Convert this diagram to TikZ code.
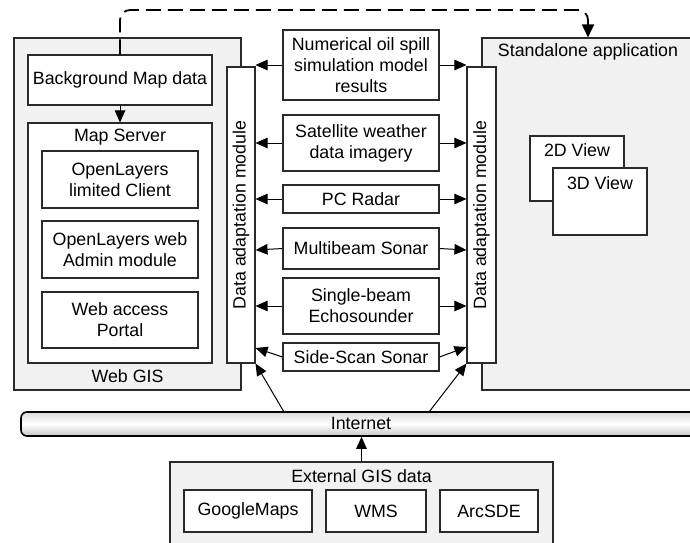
\documentclass[tikz,border=0pt]{standalone}
\usepackage{fontspec}
\setmainfont{Liberation Sans}
\usetikzlibrary{arrows.meta,calc}
\definecolor{edge}{HTML}{2A2A2A}
\definecolor{panel}{HTML}{F1F1F1}
\begin{document}
\begin{tikzpicture}[x=1pt,y=-1pt,
  font=\fontsize{17.8}{21}\selectfont,
  box/.style={draw=edge,line width=1.1pt,fill=white,inner sep=0pt,align=center},
  panelbox/.style={draw=edge,line width=1.1pt,fill=panel,inner sep=0pt},
  lbl/.style={inner sep=0pt,anchor=center},
  arr/.style={-{Triangle[length=12pt,width=10.5pt]},line width=1pt,draw=black},
  dasharr/.style={-{Triangle[length=13pt,width=12pt]},line width=1.8pt,dash pattern=on 15pt off 7pt,rounded corners=10pt}]
\useasboundingbox (0,0) rectangle (690,542);
\clip (0,0) rectangle (690,542);
% Web GIS
\node[panelbox,minimum width=227,minimum height=352] (webgis) at (127.5,214) {};
\node[lbl] (webgislab) at (127.5,376) {Web GIS};
\node[box,minimum width=184,minimum height=50] (bg) at (120,80) {Background Map data};
\node[box,minimum width=184,minimum height=240] (ms) at (120,243) {};
\node[lbl] (mslab) at (120,137) {Map Server};
\node[box,minimum width=156,minimum height=57] (olc) at (120,179.5) {OpenLayers\\limited Client};
\node[box,minimum width=156,minimum height=57] (ola) at (120,249.5) {OpenLayers web\\Admin module};
\node[box,minimum width=156,minimum height=56] (wap) at (120,320) {Web access\\Portal};
% Standalone
\node[panelbox,minimum width=212,minimum height=352] (sa) at (588,214) {};
\node[lbl] (salab) at (588,52) {Standalone application};
\node[box,minimum width=94,minimum height=65] (v2) at (577,168.5) {};
\node[lbl] (v2lab) at (577,150) {2D View};
\node[box,minimum width=94,minimum height=67] (v3) at (600,201.5) {};
\node[lbl] (v3lab) at (600,183) {3D View};
% modules
\node[box,minimum width=28,minimum height=296] (lmod) at (241,215) {};
\node[lbl,rotate=90] (lmodlab) at (241,215) {Data adaptation module};
\node[box,minimum width=29,minimum height=296] (rmod) at (481.5,215) {};
\node[lbl,rotate=90] (rmodlab) at (481.5,215) {Data adaptation module};
% central sources
\node[box,minimum width=156,minimum height=70] (num) at (361,65) {Numerical oil spill\\simulation model\\results};
\node[box,minimum width=156,minimum height=56] (sat) at (361,143) {Satellite weather\\data imagery};
\node[box,minimum width=156,minimum height=28] (pcr) at (361,199) {PC Radar};
\node[box,minimum width=156,minimum height=41] (mbs) at (361,248.5) {Multibeam Sonar};
\node[box,minimum width=156,minimum height=56] (sbe) at (361,306) {Single-beam\\Echosounder};
\node[box,minimum width=156,minimum height=28] (sss) at (361,357) {Side-Scan Sonar};
\foreach \n in {num,sat,pcr,sbe}{
  \draw[arr] (\n.west) -- (\n.west -| lmod.east);
  \draw[arr] (\n.east) -- (\n.east -| rmod.west);
}
\draw[arr] (mbs.west) -- (lmod.east |- 0,250);
\draw[arr] (mbs.east) -- (rmod.west |- 0,250);
\draw[arr] (sss.west) -- (lmod.east |- 0,348);
\draw[arr] (sss.east) -- (rmod.west |- 0,347);
% internal arrow
\draw[arr] (bg.south) -- (ms.north);
% dashed
\draw[dasharr] (bg.north) -- (120,10) -- (588,10) -- (sa.north);
% Internet
\node[draw=black,line width=1.6pt,rounded corners=6pt,minimum width=680,minimum height=24,inner sep=0pt,
  top color=black!14,bottom color=black!22,middle color=white,shading angle=0] (inet) at (361,424) {};
\node[lbl] (inetlab) at (361,423) {Internet};
\coordinate (ial) at (284,412);
\coordinate (iar) at (429,412);
\draw[arr] (ial) -- (lmod.south east);
\draw[arr] (iar) -- (rmod.south west);
% External GIS
\node[panelbox,minimum width=383,minimum height=120] (ext) at (361.5,522) {};
\node[lbl] (extlab) at (361.5,476) {External GIS data};
\node[box,minimum width=128,minimum height=42] (gm) at (248,511) {GoogleMaps};
\node[box,minimum width=100,minimum height=42] (wms) at (376,511) {WMS};
\node[box,minimum width=98,minimum height=42] (arc) at (489,511) {ArcSDE};
\draw[arr] (ext.north) -- (ext.north |- inet.south);
\end{tikzpicture}
\end{document}
